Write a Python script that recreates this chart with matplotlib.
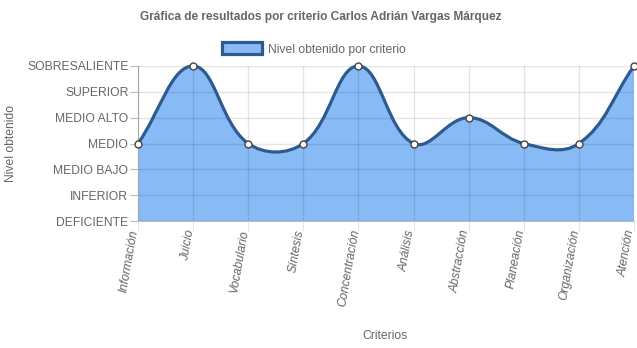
import matplotlib.pyplot as plt
import numpy as np
from matplotlib.path import Path
from matplotlib.patches import PathPatch, Patch

plt.rcParams['font.family'] = ['Liberation Sans', 'DejaVu Sans']

criterios = ["Información", "Juicio", "Vocabulario", "Síntesis", "Concentración",
             "Análisis", "Abstracción", "Planeación", "Organización", "Atención"]
niveles = ["DEFICIENTE", "INFERIOR", "MEDIO BAJO", "MEDIO", "MEDIO ALTO",
           "SUPERIOR", "SOBRESALIENTE"]
valores = [3, 6, 3, 3, 6, 3, 4, 3, 3, 6]

FILL = '#88baf6'
LINE = '#2e5b8f'
TEXT = '#666666'
TENSION = 0.4


def spline_path(pts, tension):
    """Cubic bezier through pts (display coords), chart.js style control points."""
    n = len(pts)
    ctrl_prev, ctrl_next = [], []
    for i in range(n):
        p0 = pts[i - 1] if i > 0 else pts[i]
        p1 = pts[i]
        p2 = pts[i + 1] if i < n - 1 else pts[i]
        d01 = np.hypot(*(p1 - p0))
        d12 = np.hypot(*(p2 - p1))
        tot = d01 + d12
        s01 = d01 / tot if tot else 0
        s12 = d12 / tot if tot else 0
        ctrl_prev.append(p1 - tension * s01 * (p2 - p0))
        ctrl_next.append(p1 + tension * s12 * (p2 - p0))
    verts = [pts[0]]
    codes = [Path.MOVETO]
    for i in range(n - 1):
        verts += [ctrl_next[i], ctrl_prev[i + 1], pts[i + 1]]
        codes += [Path.CURVE4] * 3
    return np.array(verts), codes


fig = plt.figure(figsize=(6.37, 3.48), dpi=100)
ax = fig.add_axes([138 / 637, 1 - 221 / 348, (634 - 138) / 637, (221 - 66) / 348])
ax.set_xlim(0, len(criterios) - 1)
ax.set_ylim(0, len(niveles) - 1)

x = np.arange(len(criterios))
y = np.array(valores, dtype=float)

# curve computed in pixel space, then mapped back to data coords
disp = ax.transData.transform(np.column_stack([x, y]))
verts_d, codes = spline_path(disp, TENSION)
verts = ax.transData.inverted().transform(verts_d)

fill_verts = np.vstack([verts, [[x[-1], 0], [x[0], 0], verts[0]]])
fill_codes = codes + [Path.LINETO, Path.LINETO, Path.CLOSEPOLY]
ax.add_patch(PathPatch(Path(fill_verts, fill_codes), facecolor=FILL,
                       edgecolor='none', zorder=1))
ax.add_patch(PathPatch(Path(verts, codes), facecolor='none', edgecolor=LINE,
                       lw=2.3, zorder=3, clip_on=False))
ax.plot(x, y, 'o', ms=5, mfc='white', mec='#444444', mew=1, zorder=4,
        clip_on=False)

ax.set_yticks(range(len(niveles)))
ax.set_yticklabels(niveles, fontsize=8.7, color=TEXT)
ax.set_xticks(x)
ax.set_xticklabels(criterios, fontsize=8.7, color=TEXT, style='italic',
                   rotation=80, ha='right', va='baseline',
                   rotation_mode='anchor')
ax.tick_params(axis='y', length=6, color='#bbbbbb', pad=1)
ax.tick_params(axis='x', length=7.5, color='#e6e6e6', pad=-1)
# translucent grid so it shows faintly over the fill
ax.grid(True, color='black', alpha=0.1, lw=1)
ax.set_axisbelow(False)
for gl in ax.get_xgridlines() + ax.get_ygridlines():
    gl.set_zorder(2)
for side in ['top', 'right']:
    ax.spines[side].set_visible(False)
ax.spines['left'].set_color('#bbbbbb')
ax.spines['bottom'].set_color('#bbbbbb')

fig.text(11 / 637, 1 - 143 / 348, 'Nivel obtenido', fontsize=8.7, color=TEXT,
         rotation=90, ha='center', va='center')
fig.text(385 / 637, 1 - 336 / 348, 'Criterios', fontsize=8.7, color=TEXT,
         ha='center', va='center')

fig.text(321 / 637, 1 - 17 / 348,
         'Gráfica de resultados por criterio Carlos Adrián Vargas Márquez',
         fontsize=8.6, fontweight='bold', color=TEXT, ha='center', va='center')

handle = Patch(facecolor=FILL, edgecolor=LINE, lw=2.3)
fig.legend(handles=[handle], labels=['Nivel obtenido por criterio'],
           loc='center', bbox_to_anchor=(314 / 637, 1 - 49 / 348),
           frameon=False, fontsize=8.7, labelcolor=TEXT, handlelength=3.3,
           handleheight=1.15, handletextpad=0.5, borderaxespad=0)

fig.savefig('out.png', dpi=100)
